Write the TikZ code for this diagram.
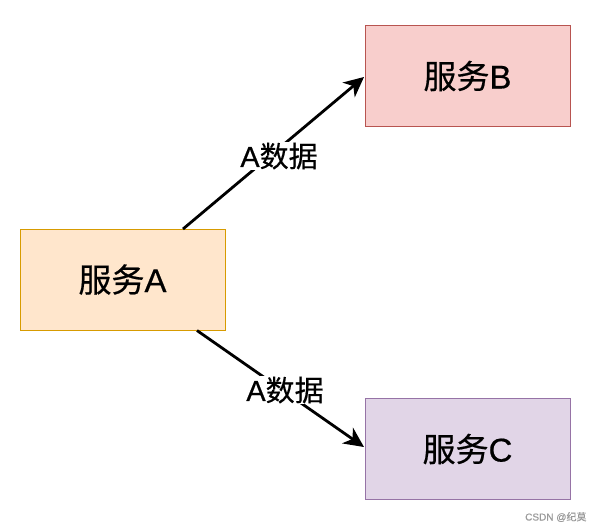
\documentclass[tikz,border=0pt]{standalone}
\usepackage{fontspec}
\setmainfont[UprightFeatures={FakeBold=0.5}]{Noto Sans CJK SC}
\newfontfamily\latinf[UprightFeatures={FakeBold=0.5}]{Liberation Sans}
\usetikzlibrary{arrows.meta}
\definecolor{afill}{HTML}{FFE6CC}\definecolor{aline}{HTML}{D79B00}
\definecolor{bfill}{HTML}{F8CECC}\definecolor{bline}{HTML}{B85450}
\definecolor{cfill}{HTML}{E1D5E7}\definecolor{cline}{HTML}{9673A6}
\newcommand{\LA}[1]{{\latinf #1}}
\tikzset{
  svc/.style={draw, line width=1pt, minimum width=205pt, minimum height=101pt, inner sep=0pt, font=\fontsize{33}{36}\selectfont},
  flow/.style={line width=2.8pt, -{Stealth[length=20pt,width=19pt,inset=6pt]}},
  lbl/.style={fill=white, inner sep=1pt, font=\fontsize{29}{32}\selectfont}
}
\begin{document}
\begin{tikzpicture}[x=1pt,y=1pt]
\useasboundingbox (0,0) rectangle (594,-528);
\node[svc, fill=afill, draw=aline] (a) at (122.5,-279.5) {服务\LA{A}};
\node[svc, fill=bfill, draw=bline] (b) at (467.5,-76) {服务\LA{B}};
\node[svc, fill=cfill, draw=cline] (c) at (467.5,-449) {服务\LA{C}};
\coordinate (s1) at (183,-229);
\coordinate (s2) at (197,-330.5);
\coordinate (e1) at (364,-77);
\coordinate (e2) at (364,-447);
\draw[flow] (s1) -- (e1);
\draw[flow] (s2) -- (e2);
\node[lbl] (l1) at (279,-156) {\LA{A}数据};
\node[lbl] (l2) at (285,-390) {\LA{A}数据};
\node[anchor=east, text=black!40, font=\fontsize{10}{12}\selectfont] (wm) at (590,-517) {\LA{CSDN @}纪莫};
\end{tikzpicture}
\end{document}
